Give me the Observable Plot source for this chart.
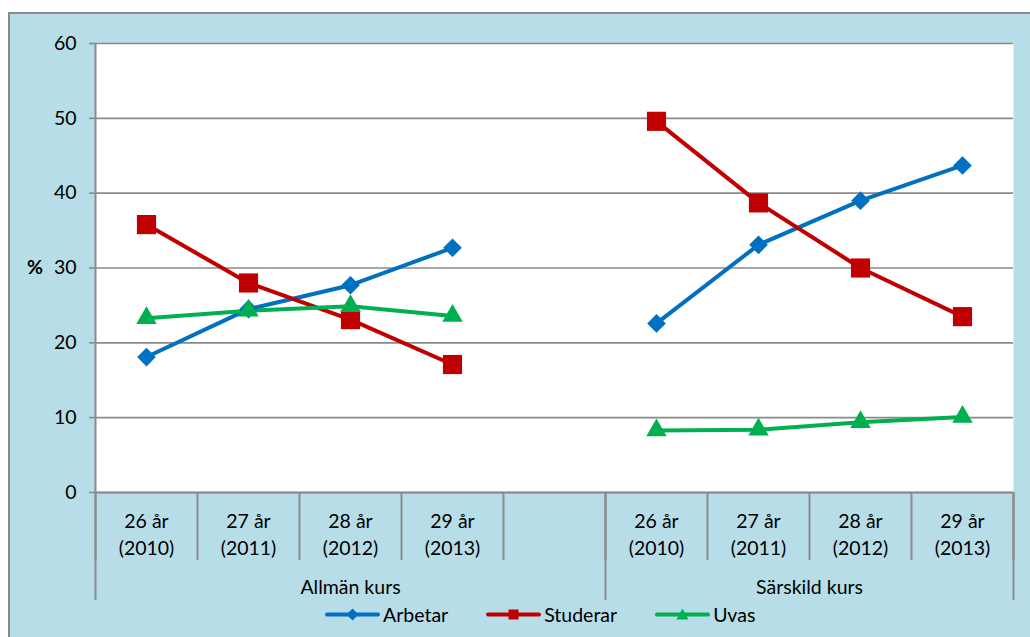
<!DOCTYPE html>
<html>
<head>
<meta charset="utf-8">
<script src="https://cdn.jsdelivr.net/npm/d3@7"></script>
<script src="https://cdn.jsdelivr.net/npm/@observablehq/plot@0.6"></script>
<style>
  body { margin: 0; background: #fff; font-family: Lato, "Open Sans", sans-serif; }
  #wrap { position: relative; width: 1030px; height: 637px; overflow: hidden; }
  #bg { position: absolute; left: 8px; top: 12px; width: 1040px; height: 640px; background: #b7dde8;
        border-left: 2px solid #8a8a8a; border-top: 2px solid #8a8a8a; box-sizing: border-box; }
  #chart { position: absolute; left: 0; top: 0; }
  #legend { position: absolute; top: 600px; left: 325px; display: flex; align-items: center; gap: 38px;
            font-size: 19.5px; color: #000; }
  .item { display: flex; align-items: center; }
  .item svg { display: block; margin-right: 3px; }
</style>
</head>
<body>
<div id="wrap">
  <div id="bg"></div>
  <div id="chart"></div>
  <div id="legend"></div>
</div>
<script>
// ---- data ----
const ages = ["26 år", "27 år", "28 år", "29 år"];
const years = ["(2010)", "(2011)", "(2012)", "(2013)"];
const groups = ["Allmän kurs", "Särskild kurs"];
const series = ["Arbetar", "Studerar", "Uvas"];
const colors = ["#0070c0", "#c00000", "#00b050"];

const allmanArbetar   = [18.1, 24.5, 27.7, 32.7];
const allmanStuderar  = [35.8, 28.0, 23.1, 17.1];
const allmanUvas      = [23.3, 24.3, 24.9, 23.6];
const sarskildArbetar  = [22.6, 33.1, 39.0, 43.7];
const sarskildStuderar = [49.6, 38.7, 30.0, 23.5];
const sarskildUvas     = [8.3, 8.4, 9.4, 10.1];

const yTicks = [0, 10, 20, 30, 40, 50, 60];

// ---- build table ----
const valuesByGroup = [
  [allmanArbetar, allmanStuderar, allmanUvas],
  [sarskildArbetar, sarskildStuderar, sarskildUvas]
];
const slotsPerGroup = ages.length + 1; // one empty slot between groups
const nSlots = groups.length * slotsPerGroup - 1;
const rows = [];
valuesByGroup.forEach((sv, g) => sv.forEach((vals, s) => vals.forEach((v, i) => {
  rows.push({ group: groups[g], series: series[s], slot: g * slotsPerGroup + i, value: v, key: groups[g] + "|" + series[s] });
})));
const catRows = [];
groups.forEach((grp, g) => ages.forEach((a, i) => catRows.push({ slot: g * slotsPerGroup + i, text: a + "\n" + years[i] })));
// group label position: Allmän spans slots 0..4 (incl. empty), Särskild spans 5..8
const groupRows = [
  { center: (-0.5 + (slotsPerGroup - 0.5)) / 2, text: groups[0] },
  { center: ((slotsPerGroup - 0.5) + (nSlots - 0.5)) / 2, text: groups[1] }
];
const slotEdges = d3.range(nSlots + 1).map(i => i - 0.5);
const groupEdges = [-0.5, slotsPerGroup - 0.5, nSlots - 0.5];

const grey = "#8a8a8a";
const fs = 19.5;
const symbols = ["diamond2", "square", "triangle"];
const radii = [8.4, 10.8, 7.6];

const marks = [
  Plot.frame({ fill: "white", stroke: "none" }),
  Plot.gridY(yTicks, { stroke: grey, strokeOpacity: 1, strokeWidth: 1.6 }),
  Plot.axisY({ ticks: yTicks, tickSize: 6, tickPadding: 13, stroke: grey, strokeWidth: 1.6, label: null, fontSize: fs }),
  Plot.ruleX([-0.5], { stroke: grey, strokeWidth: 2 }),
  Plot.ruleY([0], { stroke: grey, strokeWidth: 2 }),
  Plot.axisX({ ticks: slotEdges, tickSize: 68, tickFormat: () => "", stroke: grey, strokeWidth: 2, label: null }),
  Plot.axisX({ ticks: groupEdges, tickSize: 108, tickFormat: () => "", stroke: grey, strokeWidth: 2, label: null }),
  Plot.text(catRows, { x: "slot", text: "text", frameAnchor: "bottom", lineAnchor: "middle", dy: 40.5, lineHeight: 1.4, fontSize: fs, fill: "#000" }),
  Plot.text(groupRows, { x: "center", text: "text", frameAnchor: "bottom", lineAnchor: "middle", dy: 95, fontSize: fs, fill: "#000" }),
  Plot.text(["%"], { text: d => d, frameAnchor: "left", textAnchor: "middle", lineAnchor: "middle", dx: -60.5, fontWeight: "bold", fontSize: fs, fill: "#000" }),
  Plot.line(rows, { x: "slot", y: "value", z: "key", stroke: "series", strokeWidth: 4 })
];
series.forEach((s, k) => {
  marks.push(Plot.dot(rows.filter(d => d.series === s), {
    x: "slot", y: "value", symbol: () => symbols[k], fill: colors[k], stroke: "none", r: radii[k]
  }));
});

const chart = Plot.plot({
  width: 1030, height: 637,
  marginLeft: 95, marginRight: 17, marginTop: 43, marginBottom: 145,
  style: { background: "transparent", fontFamily: "Lato, 'Open Sans', sans-serif", fontSize: fs + "px", color: "#000" },
  x: { type: "linear", domain: [-0.5, nSlots - 0.5], axis: null },
  y: { domain: [0, 60], axis: null },
  color: { domain: series, range: colors },
  symbol: { type: "identity" },
  marks
});
document.getElementById("chart").appendChild(chart);

// ---- legend ----
const legend = document.getElementById("legend");
const legendShapes = [
  '<path d="M27.5,8.5 L33.5,14.5 L27.5,20.5 L21.5,14.5Z"/>',
  '<rect x="22.5" y="9.5" width="10" height="10"/>',
  '<path d="M27.5,8.5 L33.5,19.5 L21.5,19.5Z"/>'
];
series.forEach((s, k) => {
  const item = document.createElement("div");
  item.className = "item";
  item.innerHTML = `<svg width="55" height="28"><line x1="2" x2="53" y1="14.5" y2="14.5" stroke="${colors[k]}" stroke-width="4" stroke-linecap="round"/><g fill="${colors[k]}">${legendShapes[k]}</g></svg><span>${s}</span>`;
  legend.appendChild(item);
});
</script>
</body>
</html>
